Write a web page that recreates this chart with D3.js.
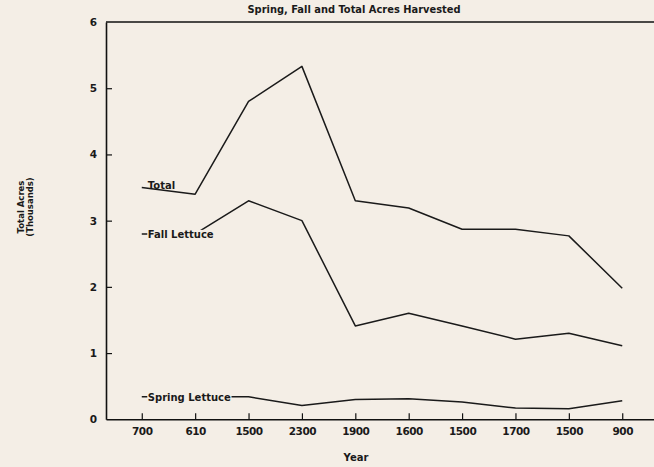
<!DOCTYPE html>
<html>
<head>
<meta charset="utf-8">
<script src="https://cdn.jsdelivr.net/npm/d3@7"></script>
<style>
  html, body { margin: 0; padding: 0; background: #f4eee6; }
  svg { display: block; }
  text { font-family: "DejaVu Sans", sans-serif; font-weight: bold; fill: #1a1a1a; }
</style>
</head>
<body>
<svg id="chart" width="654" height="467"></svg>
<script>
const yearLabels = ["700", "610", "1500", "2300", "1900", "1600", "1500", "1700", "1500", "900"];
const totalAcres = [3.5, 3.4, 4.8, 5.33, 3.3, 3.19, 2.87, 2.87, 2.77, 1.98];
const fallLettuce = [2.8, 2.8, 3.3, 3.0, 1.41, 1.6, 1.41, 1.21, 1.3, 1.11];
const springLettuce = [0.34, 0.34, 0.34, 0.21, 0.3, 0.31, 0.26, 0.17, 0.16, 0.28];
const yTicks = [0, 1, 2, 3, 4, 5, 6];
const seriesNames = ["Total", "Fall Lettuce", "Spring Lettuce"];

const bg = "#f4eee6";
const svg = d3.select("#chart");
const mLeft = 106, mRight = 658, mTop = 22, mBottom = 419.3;

const x = d3.scalePoint().domain(d3.range(yearLabels.length)).range([mLeft, mRight]).padding(0.67);
const y = d3.scaleLinear().domain([0, 6]).range([mBottom, mTop]);

// top frame line
svg.append("line").attr("x1", mLeft).attr("x2", mRight).attr("y1", mTop).attr("y2", mTop)
  .attr("stroke", "#111").attr("stroke-width", 1.6);

const xAxis = svg.append("g").attr("transform", `translate(0,${mBottom})`)
  .call(d3.axisBottom(x).tickSize(-6).tickSizeOuter(0).tickPadding(8).tickFormat(i => yearLabels[i]));
xAxis.select(".domain").attr("stroke", "#111").attr("stroke-width", 1.6);
xAxis.selectAll(".tick line").attr("stroke", "#111").attr("stroke-width", 1.2);
xAxis.selectAll(".tick text").attr("font-size", 10.5).attr("fill", "#1a1a1a").attr("letter-spacing", -0.5);

const yAxis = svg.append("g").attr("transform", `translate(${mLeft},0)`)
  .call(d3.axisLeft(y).tickValues(yTicks).tickSize(-6).tickSizeOuter(0).tickPadding(9).tickFormat(d3.format("d")));
yAxis.select(".domain").attr("stroke", "#111").attr("stroke-width", 1.6);
yAxis.selectAll(".tick line").attr("stroke", "#111").attr("stroke-width", 1.2)
  .attr("display", d => (d === 0 || d === 6) ? "none" : null);
yAxis.selectAll(".tick text").attr("font-size", 10.5).attr("fill", "#1a1a1a");

const line = d3.line().x((d, i) => x(i)).y(d => y(d));
const allSeries = [totalAcres, fallLettuce, springLettuce];
svg.selectAll("path.series").data(allSeries).enter().append("path")
  .attr("class", "series")
  .attr("d", line)
  .attr("fill", "none").attr("stroke", "#1a1a1a").attr("stroke-width", 1.5).attr("stroke-linejoin", "round");

// series labels written at the start of each line
const labelOffsets = [1, 4, 4];
seriesNames.forEach((name, k) => {
  const g = svg.append("g");
  const t = g.append("text")
    .attr("x", x(0) + 6)
    .attr("y", y(allSeries[k][0]) + labelOffsets[k])
    .attr("font-size", 10)
    .text(name);
  if (k > 0) {
    const b = t.node().getBBox();
    g.insert("rect", "text").attr("x", b.x - 0.5).attr("y", b.y + 1).attr("width", b.width + 1).attr("height", b.height - 2)
      .attr("fill", bg);
  }
});

// title
svg.append("text").attr("x", 354).attr("y", 13).attr("text-anchor", "middle")
  .attr("font-size", 9.9)
  .text("Spring, Fall and Total Acres Harvested");

// x axis title
svg.append("text").attr("x", 356).attr("y", 461).attr("text-anchor", "middle")
  .attr("font-size", 10).text("Year");

// y axis title
const yt = svg.append("text").attr("transform", "translate(24,207) rotate(-90)")
  .attr("text-anchor", "middle").attr("font-size", 8.5);
yt.append("tspan").attr("x", 0).attr("dy", 0).text("Total Acres");
yt.append("tspan").attr("x", 0).attr("dy", 8.5).text("(Thousands)");
</script>
</body>
</html>
